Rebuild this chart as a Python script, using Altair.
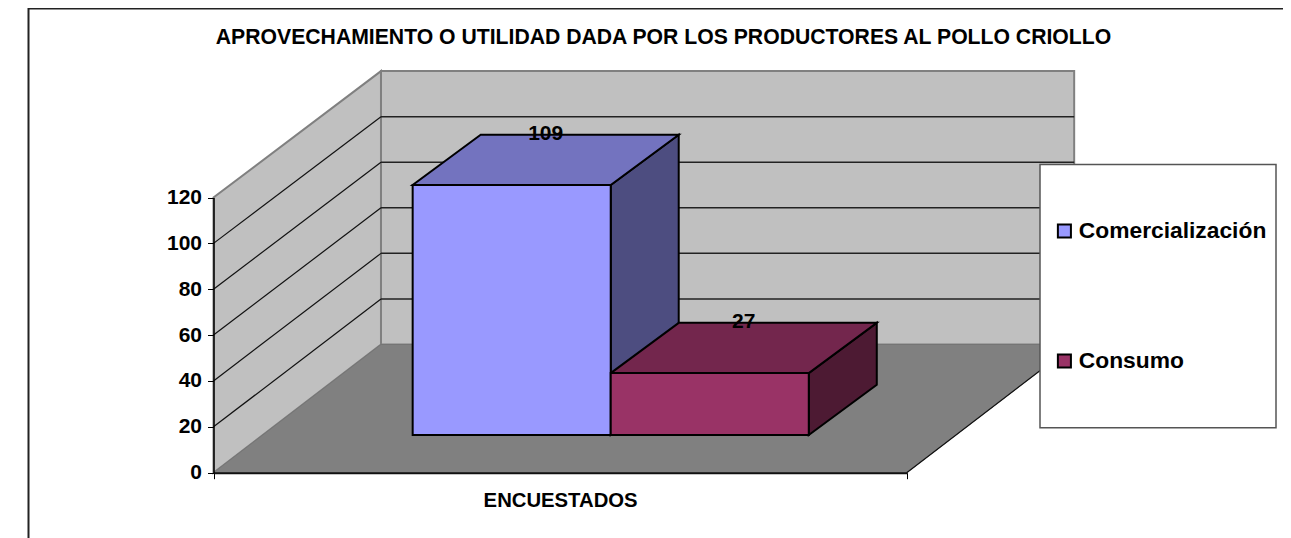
import altair as alt
import pandas as pd

titulo = "APROVECHAMIENTO O UTILIDAD DADA POR LOS PRODUCTORES AL POLLO CRIOLLO"
categoria_x = "ENCUESTADOS"
series = ["Comercialización", "Consumo"]
valores = [109, 27]
ticks_y = [0, 20, 40, 60, 80, 100, 120]
col_front = ["#9999FF", "#993366"]
col_top = ["#7373BF", "#73264D"]
col_side = ["#4D4D80", "#4D1A33"]

FONT = "Liberation Sans"
W, H = 1275, 530
DX, DY = 0.2416, 55.9      # depth of the 3D box, in scale units
WALL = 0.9935              # back wall is slightly shorter than the front edge
D0, D1 = 0.294, 0.686      # depth span of the bars (vertical shift)
D1X = 0.70                 # back of the bars (horizontal shift)
BAR_W = 2 / 7
BAR_START = 1.5 / 7 + 0.002

xs = alt.Scale(domain=[0, 1], range=[205.5, 898.7], nice=False, zero=False)
ys = alt.Scale(domain=[0, 120], range=[464.7, 189.5], nice=False, zero=False)

xa = alt.Axis(values=[0, 1], labels=False, grid=False, title=categoria_x, tickSize=6, tickColor="#000000",
              domainColor="#111111", domainWidth=2, offset=-(H - 464.7), zindex=1, titleFont=FONT,
              titleFontSize=20.3, titleFontWeight="bold", titleColor="#000000", titlePadding=11)
ya = alt.Axis(values=ticks_y, grid=False, title=None, tickSize=6, tickColor="#000000", domainColor="#000000",
              domainWidth=1.5, offset=-205.5, zindex=1, labelFont=FONT, labelFontSize=21, labelFontWeight="bold",
              labelColor="#000000", labelPadding=6)


def X():
    return alt.X("x:Q", scale=xs, axis=xa)


def Y():
    return alt.Y("y:Q", scale=ys, axis=ya)


def vface(rows, fill, stroke, sw):
    """Parallelogram with vertical edges."""
    return alt.Chart(pd.DataFrame(rows)).mark_area(
        fill=fill, stroke=stroke, strokeWidth=sw, opacity=1, orient="vertical"
    ).encode(x=X(), y=Y(), y2="y2:Q")


def hface(rows, fill, stroke, sw):
    """Parallelogram with horizontal edges."""
    return alt.Chart(pd.DataFrame(rows)).mark_area(
        fill=fill, stroke=stroke, strokeWidth=sw, opacity=1, orient="horizontal"
    ).encode(y=Y(), x=X(), x2="x2:Q")


def seg(x0, y0, x1, y1, color, sw):
    return alt.Chart(pd.DataFrame({"x": [x0, x1], "y": [y0, y1]})).mark_line(
        color=color, strokeWidth=sw
    ).encode(x=X(), y=Y())


layers = []

# outer frame
layers.append(
    alt.Chart(pd.DataFrame({"a": [0]})).mark_rect(fill="white", stroke="#222222", strokeWidth=2).encode(
        x=alt.value(20.5), x2=alt.value(1400), y=alt.value(0.5), y2=alt.value(800)
    )
)

# back wall
layers.append(
    alt.Chart(pd.DataFrame({"x": [DX], "x2": [1 + DX], "y": [DY], "y2": [120 * WALL + DY]})).mark_rect(
        fill="#C0C0C0", stroke="#808080", strokeWidth=2
    ).encode(x=X(), x2="x2:Q", y=Y(), y2="y2:Q")
)

# side wall
layers.append(vface([{"x": 0, "y": 0, "y2": 120}, {"x": DX, "y": DY, "y2": 120 * WALL + DY}], "#C0C0C0", "#808080", 2))
# floor
layers.append(hface([{"y": 0, "x": 0, "x2": 1}, {"y": DY, "x": DX, "x2": 1 + DX}], "#808080", "#757575", 1))
layers.append(seg(1, 0, 1 + DX, DY, "#111111", 1.2))

# gridlines on both walls
for t in ticks_y[1:-1]:
    layers.append(seg(0, t, DX, t * WALL + DY, "#111111", 1.2))
    layers.append(seg(DX, t * WALL + DY, 1 + DX, t * WALL + DY, "#222222", 1.5))

# bars
for i, (name, v) in enumerate(zip(series, valores)):
    u0 = BAR_START + i * BAR_W
    u1 = u0 + BAR_W
    layers.append(vface([
        {"x": u1 + D0 * DX, "y": D0 * DY, "y2": v + D0 * DY},
        {"x": u1 + D1X * DX, "y": D1 * DY, "y2": v + D1 * DY},
    ], col_side[i], "#000000", 2))
    layers.append(hface([
        {"y": v + D0 * DY, "x": u0 + D0 * DX, "x2": u1 + D0 * DX},
        {"y": v + D1 * DY, "x": u0 + D1X * DX, "x2": u1 + D1X * DX},
    ], col_top[i], "#000000", 2))

# legend box
layers.append(
    alt.Chart(pd.DataFrame({"a": [0]})).mark_rect(fill="white", stroke="#555555", strokeWidth=1.5).encode(
        x=alt.value(1032), x2=alt.value(1268), y=alt.value(156.5), y2=alt.value(419.7)
    )
)

# front faces, carry the legend
for i, (name, v) in enumerate(zip(series, valores)):
    u0 = BAR_START + i * BAR_W
    u1 = u0 + BAR_W
    df = pd.DataFrame([{"serie": name, "x": u0 + D0 * DX, "x2": u1 + D0 * DX, "y": D0 * DY, "y2": v + D0 * DY}])
    layers.append(
        alt.Chart(df).mark_rect(stroke="#000000", strokeWidth=2, opacity=1).encode(
            x=X(), x2="x2:Q", y=Y(), y2="y2:Q",
            fill=alt.Fill("serie:N", scale=alt.Scale(domain=series, range=col_front), legend=alt.Legend(
                title=None, orient="none", legendX=1045, legendY=211.5, symbolType="square", symbolSize=170,
                symbolStrokeColor="#000000", symbolStrokeWidth=2, symbolOpacity=1, labelFont=FONT, labelFontSize=22.8,
                labelFontWeight="bold", labelColor="#000000", rowPadding=106, labelOffset=3, labelLimit=300,
            )),
        )
    )

# value labels
lab = pd.DataFrame([{
    "x": BAR_START + (i + 0.5) * BAR_W + (D0 + D1X) / 2 * DX,
    "y": v + D1 * DY + 0.3,
    "t": str(v),
} for i, v in enumerate(valores)])
layers.append(
    alt.Chart(lab).mark_text(font=FONT, fontSize=21, fontWeight="bold", color="#000000", baseline="middle").encode(
        x=X(), y=Y(), text="t:N"
    )
)

chart = alt.layer(*layers).properties(
    width=W, height=H, padding=0,
    autosize=alt.AutoSizeParams(type="none"),
    title=alt.TitleParams(titulo, font=FONT, fontSize=21.2, fontWeight="bold", color="#000000", anchor="middle",
                          frame="group", dx=18, offset=-62, baseline="bottom"),
).configure_view(stroke=None)

chart.save("out.html", embed_options={"renderer": "svg", "actions": False})
